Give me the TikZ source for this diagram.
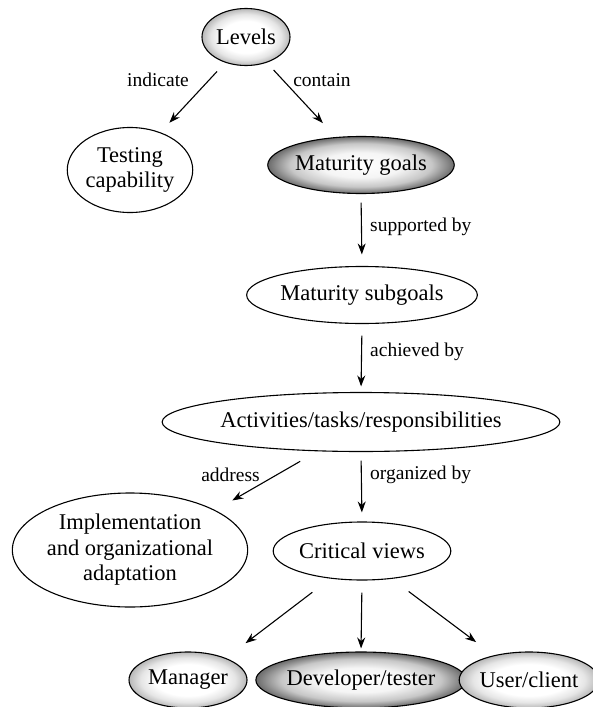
\documentclass[tikz,border=0pt]{standalone}
\usepackage{fontspec}
\setmainfont{Liberation Serif}
\usetikzlibrary{shapes.geometric,arrows.meta}

% soft radial fills for the highlighted ellipses
\pgfdeclareradialshading{lightball}{\pgfpoint{0bp}{0bp}}{%
  color(0bp)=(white); color(14bp)=(white); color(20bp)=(black!10);
  color(25bp)=(black!28); color(50bp)=(black!28)}
\pgfdeclareradialshading{darkball}{\pgfpoint{0bp}{0bp}}{%
  color(0bp)=(white); color(11bp)=(black!4); color(19bp)=(black!22);
  color(25bp)=(black!58); color(50bp)=(black!58)}

\tikzset{
  oval/.style={ellipse, draw=black, line width=1.1pt, inner sep=0pt,
    font=\fontsize{22.5}{25.5}\selectfont, align=center, fill=white},
  lightoval/.style={oval, shading=lightball},
  darkoval/.style={oval, shading=darkball},
  lbl/.style={font=\fontsize{19.5}{22}\selectfont, inner sep=0pt},
  arr/.style={-{Stealth[length=11pt,width=8pt]}, line width=1.1pt},
}

\begin{document}
\begin{tikzpicture}[x=1pt,y=-1pt]
\useasboundingbox (0,0) rectangle (592,707);

% concept ellipses
\node[lightoval, minimum width=88, minimum height=57] (lev) at (246,37) {Levels};
\node[oval, minimum width=116, minimum height=85] (test) at (130,170) {Testing\\capability};
\node[darkoval, minimum width=175, minimum height=57] (mg) at (361,165) {Maturity goals};
\node[oval, minimum width=203, minimum height=57] (sub) at (362,295) {Maturity subgoals};
\node[oval, minimum width=333, minimum height=59] (act) at (361,422) {Activities/tasks/responsibilities};
\node[oval, minimum width=234, minimum height=114] (impl) at (130,550) {Implementation\\and organizational\\adaptation};
\node[oval, minimum width=160, minimum height=58] (cv) at (362,551) {Critical views};
\node[lightoval, minimum width=118, minimum height=56] (man) at (188,680) {Manager};
\node[darkoval, minimum width=188, minimum height=56] (dev) at (361,680) {Developer/tester};
\node[lightoval, minimum width=122, minimum height=56] (usr) at (529,680) {User/client};

% relations
\draw[arr, shorten <=12pt, shorten >=13pt] (lev.231) -- (test.51);
\draw[arr, shorten <=10pt, shorten >=19pt] (lev.309) -- (mg.132);
\draw[arr, shorten <=8.5pt, shorten >=11.5pt] (mg.south) -- (sub.north);
\draw[arr, shorten <=11.5pt, shorten >=5.5pt] (sub.south) -- (act.north);
\draw[arr, shorten <=20pt, shorten >=19.5pt] (act.214.6) -- (impl.25.2);
\draw[arr, shorten <=8.5pt, shorten >=9pt] (act.south) -- (cv.north);
\draw[arr, shorten <=22.5pt, shorten >=24.5pt] (cv.221.8) -- (man.30);
\draw[arr, shorten <=12pt, shorten >=3pt] (cv.south) -- (dev.north);
\draw[arr, shorten <=21pt, shorten >=22pt] (cv.317.7) -- (usr.145.3);

% relation labels
\node[lbl] (lind) at (158,80) {indicate};
\node[lbl] (lcon) at (322,80) {contain};
\node[lbl, anchor=west] (lsup) at (370,227) {supported by};
\node[lbl, anchor=west] (lach) at (370,352) {achieved by};
\node[lbl, anchor=east] (ladd) at (260,475) {address};
\node[lbl, anchor=west] (lorg) at (370,475) {organized by};
\end{tikzpicture}
\end{document}
